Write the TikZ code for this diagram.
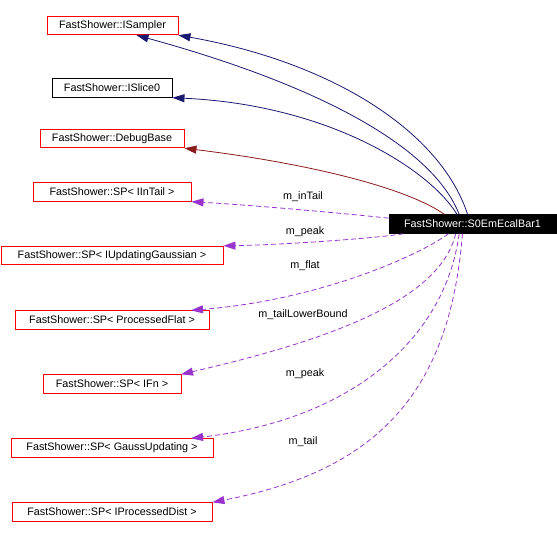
\documentclass[tikz,border=0pt]{standalone}
\usepackage{fontspec}
\setmainfont{Liberation Sans}
\usepackage{xcolor}
\usetikzlibrary{arrows.meta}
\definecolor{inhblue}{HTML}{191970}
\definecolor{inhred}{HTML}{8B1A1A}
\definecolor{usepurple}{HTML}{9A32CD}

\begin{document}
\begin{tikzpicture}[x=1pt, y=-1pt,
          font=\fontsize{10.8}{13}\selectfont,
          cls/.style={draw, line width=0.9pt, inner sep=0pt, minimum height=18.5pt},
          redcls/.style={cls, draw=red},
          blkcls/.style={cls, draw=black},
          self/.style={cls, fill=black, text=white},
          ar/.style={-{Triangle[length=12pt,width=8pt]}, line width=0.8pt},
          inh/.style={ar, inhblue},
          priv/.style={ar, inhred},
          use/.style={ar, usepurple, dash pattern=on 5pt off 3pt},
          lbl/.style={inner sep=1pt}]
        \useasboundingbox (0,0) rectangle (557,538);
        % classes
        \node[redcls, minimum width=131pt] (isampler) at (112.5,25.5) {FastShower::ISampler};
        \node[blkcls, minimum width=120pt] (islice) at (112,88) {FastShower::ISlice0};
        \node[redcls, minimum width=144pt] (debug) at (112,138.5) {FastShower::DebugBase};
        \node[redcls, minimum width=158pt] (intail) at (112,192) {FastShower::SP< IInTail >};
        \node[redcls, minimum width=222pt] (updgauss) at (112,255.5) {FastShower::SP< IUpdatingGaussian >};
        \node[redcls, minimum width=194pt] (procflat) at (112,320) {FastShower::SP< ProcessedFlat >};
        \node[redcls, minimum width=138pt] (ifn) at (112,384) {FastShower::SP< IFn >};
        \node[redcls, minimum width=202pt] (gaussupd) at (112,448) {FastShower::SP< GaussUpdating >};
        \node[redcls, minimum width=200pt] (procdist) at (112,512) {FastShower::SP< IProcessedDist >};
        \node[self, minimum width=167pt] (ecalbar) at (472.5,224) {FastShower::S0EmEcalBar1};
        % inheritance
        \draw[inh] (ecalbar.117) .. controls (440,130) and (330,62) .. (isampler.south east);
        \draw[inh] (ecalbar.144) .. controls (430,140) and (300,80) .. (isampler.-22);
        \draw[inh] (ecalbar.148) .. controls (430,170) and (330,105) .. (islice.south east);
        \draw[priv] (ecalbar.161) .. controls (410,190) and (320,165) .. (debug.south east);
        % members
        \draw[use] (ecalbar.176) .. controls (340,213) and (250,205) .. (intail.south east);
        \draw[use] (ecalbar.188) .. controls (380,238) and (280,245) .. (updgauss.north east);
        \draw[use] (ecalbar.202) .. controls (420,255) and (320,300) .. (procflat.7);
        \draw[use] (ecalbar.210) .. controls (440,300) and (330,340) .. (ifn.8);
        \draw[use] (ecalbar.216) .. controls (445,340) and (350,420) .. (gaussupd.7);
        \draw[use] (ecalbar.224) .. controls (450,390) and (380,470) .. (procdist.north east);
        % member names
        \node[lbl] (lintail) at (303,197) {m\_inTail};
        \node[lbl] (lpeak) at (305,232) {m\_peak};
        \node[lbl] (lflat) at (305,266) {m\_flat};
        \node[lbl] (lbound) at (303,315) {m\_tailLowerBound};
        \node[lbl] (lpeakb) at (305,374) {m\_peak};
        \node[lbl] (ltail) at (303,442) {m\_tail};
      \end{tikzpicture}
\end{document}
